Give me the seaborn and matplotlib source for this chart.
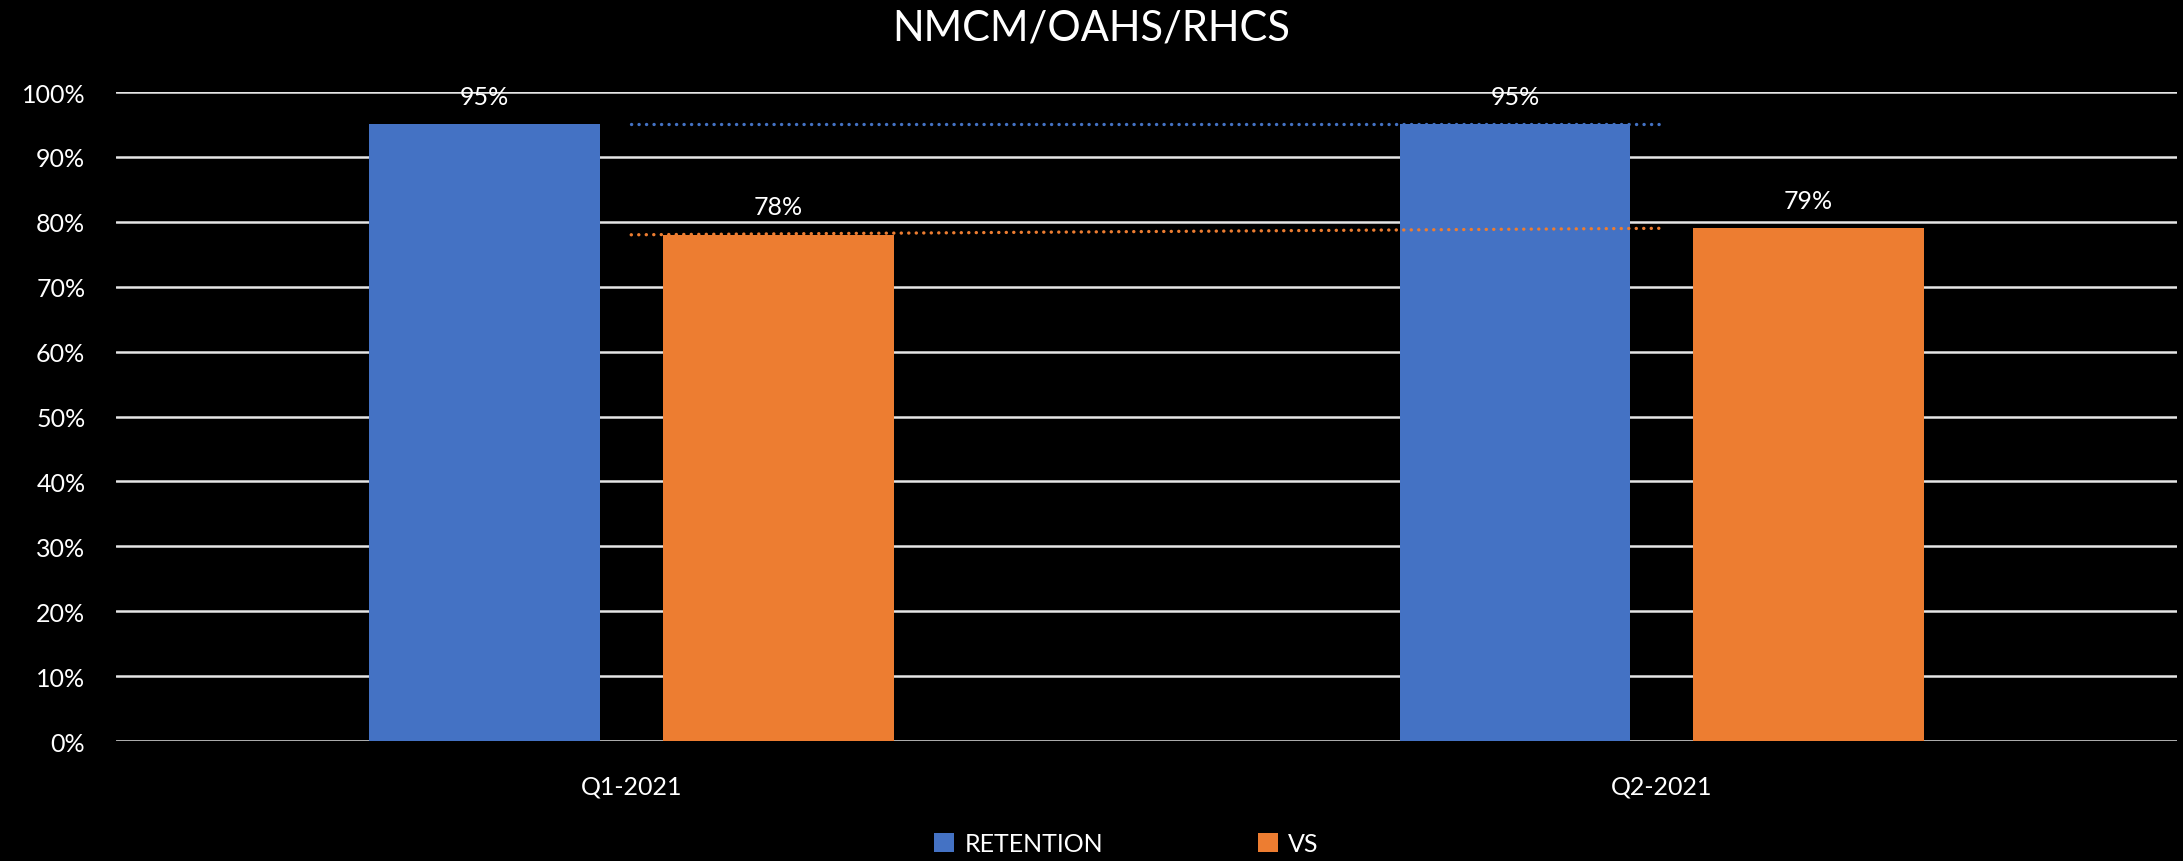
import numpy as np
import pandas as pd
import matplotlib
matplotlib.use("Agg")
import matplotlib.pyplot as plt
import seaborn as sns
from matplotlib.patches import Patch
from matplotlib.ticker import PercentFormatter

# ------------------------- Data -------------------------
quarters = ["Q1-2021", "Q2-2021"]
retention = [95, 95]
vs = [78, 79]
series_names = ["RETENTION", "VS"]
colors = ["#4472C4", "#ED7D31"]

df = pd.DataFrame({
    "quarter": quarters * 2,
    "value": retention + vs,
    "metric": [series_names[0]] * len(quarters) + [series_names[1]] * len(quarters),
})

# ------------------------- Style -------------------------
sns.set_style("dark")
plt.rcParams["font.family"] = ["Lato", "DejaVu Sans"]
plt.rcParams["text.color"] = "white"

fig = plt.figure(figsize=(21.83, 8.62), dpi=100, facecolor="black")
ax = fig.add_axes([0.0531, 0.1392, 0.9442, 0.7529])
ax.set_facecolor("black")

ax.set_axisbelow(True)
ax.yaxis.grid(True, color="#e6e6e6", linewidth=1.8)
ax.xaxis.grid(False)

sns.barplot(
    data=df, x="quarter", y="value", hue="metric",
    palette=colors, saturation=1, width=0.57, gap=0.214,
    linewidth=0, ax=ax, legend=False,
)

# data labels
for container in ax.containers:
    ax.bar_label(container, fmt="%d%%", padding=12, color="white", fontsize=18)

# linear trendlines (dotted), one per series
xs = np.arange(len(quarters))
for vals, col in zip([retention, vs], colors):
    slope, icpt = np.polyfit(xs, vals, 1)
    ax.plot(xs, slope * xs + icpt, color=col, linewidth=2.4,
            linestyle=(0, (0.05, 2.2)), dash_capstyle="round", zorder=3)

ax.set_xlim(-0.5, 1.5)
ax.set_ylim(0, 100)
ax.set_yticks(np.arange(0, 101, 10))
ax.yaxis.set_major_formatter(PercentFormatter(decimals=0))
ax.set_xlabel("")
ax.set_ylabel("")
ax.tick_params(axis="y", length=0, pad=22, labelsize=18, labelcolor="white")
ax.tick_params(axis="x", length=0, pad=24, labelsize=18, labelcolor="white")
for s in ax.spines.values():
    s.set_visible(False)

fig.suptitle("NMCM/OAHS/RHCS", y=0.967, va="center", fontsize=30, color="white")

handles = [Patch(facecolor=c, edgecolor="none", label=n) for c, n in zip(colors, series_names)]
fig.legend(handles=handles, loc="center", bbox_to_anchor=(0.516, 0.02), ncol=2,
           frameon=False, fontsize=18, handlelength=0.8, handleheight=0.8,
           handletextpad=0.4, columnspacing=6.2, labelcolor="white")

fig.savefig("out.png", dpi=100, facecolor="black")
